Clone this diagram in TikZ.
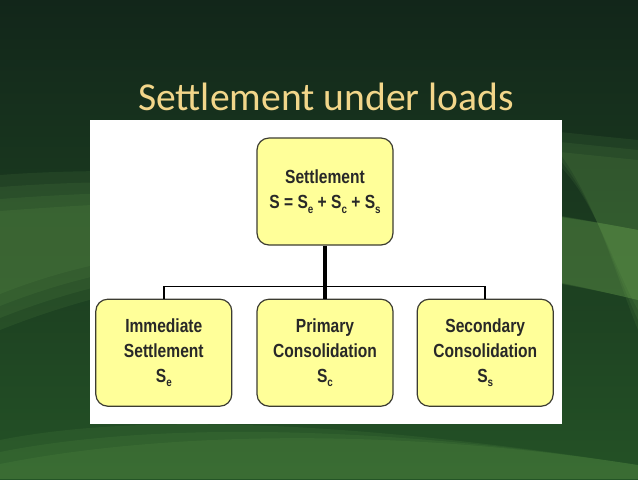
\documentclass[tikz,border=0pt]{standalone}
\usepackage{fontspec}
\newfontfamily\boxfont[FakeStretch=0.82]{Liberation Sans}
\newfontfamily\titlefont{Carlito}
\usetikzlibrary{positioning, calc}
\definecolor{SlideDark}{RGB}{18,38,26}
\definecolor{SlideGreen}{RGB}{36,82,38}
\definecolor{SlideLight}{RGB}{120,180,90}
\definecolor{TitleGold}{RGB}{242,214,138}
\definecolor{BoxYellow}{RGB}{255,255,153}
\definecolor{BoxLine}{RGB}{60,60,50}
\definecolor{BoxText}{RGB}{40,40,40}
\tikzset{
  % riquadri dello schema
  box/.style={draw=BoxLine, fill=BoxYellow, rounded corners=6pt, line width=0.6pt,
    minimum width=68pt, minimum height=53.5pt, inner sep=2pt, align=center,
    text=BoxText, font=\boxfont\bfseries\fontsize{9.5}{12.5}\selectfont},
  % collegamenti
  trunk/.style={line width=1.6pt, black},
  branch/.style={line width=0.9pt, black},
  swoosh/.style={SlideLight, opacity=0.1}
}
\newcommand{\lowidx}[1]{\raisebox{-0.45ex}{\fontsize{6}{6}\selectfont #1}}

\begin{document}
\begin{tikzpicture}[x=0.5pt,y=-0.5pt]
  \useasboundingbox (0,0) rectangle (638,479);
  % sfondo della slide
  \shade[top color=SlideDark, bottom color=SlideGreen] (0,0) rectangle (638,479);
  \foreach \d in {0,12,24,36}
    \fill[swoosh] (0,175+\d) .. controls (200,160+\d) and (430,190) .. (638,230)
      -- (638,300) .. controls (430,250) and (200,250-\d) .. (0,330-\d) -- cycle;
  \foreach \d in {0,10,20}
    \fill[swoosh] (540,130+\d) .. controls (590,180) and (610,260) .. (638,330-\d)
      -- (638,140+\d) -- cycle;
  \foreach \d in {0,12,24}
    \fill[swoosh] (0,440+\d) .. controls (150,410+\d) and (380,425) .. (638,465)
      -- (638,479) -- (0,479) -- cycle;
  % pannello bianco
  \fill[white] (90,120) rectangle (562,424);
  \node[anchor=base, text=TitleGold, font=\titlefont\fontsize{19.8}{22}\selectfont]
    (title) at (326,110) {Settlement under loads};
  \node[box] (total) at (325,191.5) {Settlement\\ S = S\lowidx{e} + S\lowidx{c} + S\lowidx{s}};
  \node[box, below=26.5pt of total] (primary) {Primary\\ Consolidation\\ S\lowidx{c}};
  \node[box, left=12pt of primary] (immediate) {Immediate\\ Settlement\\ S\lowidx{e}};
  \node[box, right=11.5pt of primary] (secondary) {Secondary\\ Consolidation\\ S\lowidx{s}};
  \coordinate (bar) at ($(total.south)!0.77!(primary.north)$);
  \draw[branch] (immediate.north) |- (bar) -| (secondary.north);
  \draw[trunk] (total.south) -- (primary.north);
\end{tikzpicture}
\end{document}
